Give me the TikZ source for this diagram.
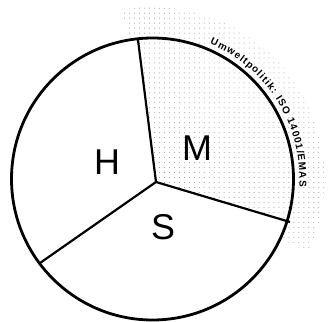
\documentclass[tikz,border=0pt]{standalone}
\usepackage{fontspec}
\setsansfont{Liberation Sans}
\usetikzlibrary{patterns.meta,decorations.text}
\tikzset{
  rim/.style={line width=2.8pt},
  divider/.style={line width=2.2pt},
  sectorlabel/.style={font=\sffamily\fontsize{36}{38}\selectfont, inner sep=0pt},
  dotfill/.style={pattern={Dots[distance=5pt, radius=0.5pt]}, pattern color=gray!90},
}
\begin{document}
\begin{tikzpicture}[x=1bp,y=1bp]
\useasboundingbox (0,0) rectangle (333,322);
% named points
\coordinate (O) at (152.5,143);
\coordinate (P) at (156,140);
\coordinate (T) at (138,282);
\coordinate (R) at (290,100);
\coordinate (L) at (40,59);
% outer dotted band
\fill[dotfill] ([shift={(100:172)}]O) arc[start angle=100, end angle=-25, radius=172]
  -- ([shift={(-25:143)}]O) arc[start angle=-25, end angle=100, radius=143] -- cycle;
% M sector shading
\fill[dotfill] (P) -- (T) arc[start angle=96, end angle=-17.5, radius=141] -- cycle;
% circle and dividers
\draw[rim] (O) circle[radius=141];
\draw[divider] (P) -- (T);
\draw[divider] (P) -- (R);
\draw[divider] (P) -- (L);
% labels
\node[sectorlabel] (H) at (107,160) {H};
\node[sectorlabel] (M) at (197,174) {M};
\node[sectorlabel] (S) at (163,95) {S};
% curved text
\path[decorate, decoration={text along path, text align={fit to path},
  text={|\sffamily\bfseries\fontsize{10}{11}\selectfont|Umweltpolitik: ISO 14001/EMAS}}]
  ([shift={(67:147)}]O) arc[start angle=67, end angle=-3, radius=147];
\end{tikzpicture}
\end{document}
